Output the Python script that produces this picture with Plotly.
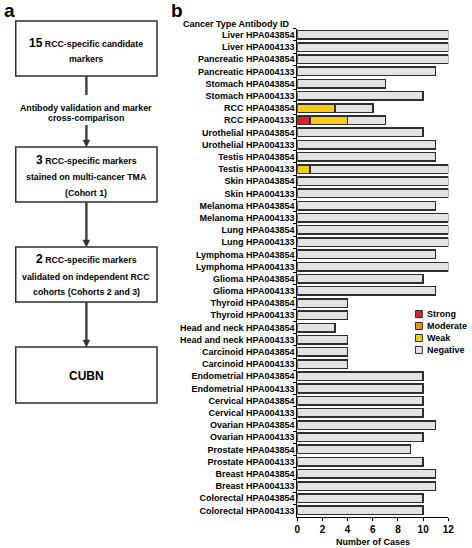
import plotly.graph_objects as go

# ---------------- data ----------------
cancer_types = ["Liver", "Liver", "Pancreatic", "Pancreatic", "Stomach", "Stomach",
                "RCC", "RCC", "Urothelial", "Urothelial", "Testis", "Testis",
                "Skin", "Skin", "Melanoma", "Melanoma", "Lung", "Lung",
                "Lymphoma", "Lymphoma", "Glioma", "Glioma", "Thyroid", "Thyroid",
                "Head and neck", "Head and neck", "Carcinoid", "Carcinoid",
                "Endometrial", "Endometrial", "Cervical", "Cervical",
                "Ovarian", "Ovarian", "Prostate", "Prostate", "Breast", "Breast",
                "Colorectal", "Colorectal"]
antibodies = ["HPA043854", "HPA004133"] * 20

strong = [0, 0, 0, 0, 0, 0, 0, 1, 0, 0, 0, 0, 0, 0, 0, 0, 0, 0, 0, 0,
          0, 0, 0, 0, 0, 0, 0, 0, 0, 0, 0, 0, 0, 0, 0, 0, 0, 0, 0, 0]
moderate = [0] * 40
weak = [0, 0, 0, 0, 0, 0, 3, 3, 0, 0, 0, 1, 0, 0, 0, 0, 0, 0, 0, 0,
        0, 0, 0, 0, 0, 0, 0, 0, 0, 0, 0, 0, 0, 0, 0, 0, 0, 0, 0, 0]
negative = [12, 12, 12, 11, 7, 10, 3, 3, 10, 11, 11, 11, 12, 12, 11, 12, 12, 12, 11, 12,
            10, 11, 4, 4, 3, 4, 4, 4, 10, 10, 10, 10, 11, 10, 9, 10, 11, 11, 10, 10]

series_names = ["Strong", "Moderate", "Weak", "Negative"]
series_values = [strong, moderate, weak, negative]
series_colors = ["#e0201e", "#f39019", "#f6cc12", "#e3e3e3"]

x_ticks = [0, 2, 4, 6, 8, 10, 12]

labels = [f"{c} {a}" for c, a in zip(cancer_types, antibodies)]

W, H = 472, 548
FONT = "Liberation Sans, Arial, sans-serif"
DARK = "#2e2e2e"


def px(x):
    return x / W


def py(y):
    return 1 - y / H


fig = go.Figure()
for name, vals, col in zip(series_names, series_values, series_colors):
    fig.add_trace(go.Bar(
        y=labels, x=[v if v else None for v in vals], orientation="h", name=name,
        marker=dict(color=col, line=dict(color=DARK, width=1.5)),
        showlegend=False,
    ))

fig.update_layout(
    width=W, height=H, barmode="stack", bargap=0.3,
    margin=dict(l=0, r=0, t=0, b=0),
    paper_bgcolor="white", plot_bgcolor="white",
    font=dict(family=FONT, color="black"),
    xaxis=dict(domain=[px(300), px(454)], range=[0, 12], tickvals=x_ticks,
               showgrid=False, zeroline=False, showline=True, linecolor="black",
               linewidth=1, ticks="outside", ticklen=3, tickcolor="black",
               tickfont=dict(size=10, family=FONT, weight="bold")),
    yaxis=dict(domain=[py(516.5), py(28.8)], autorange="reversed",
               categoryorder="array", categoryarray=labels,
               showgrid=False, zeroline=False, showline=True, linecolor="black",
               linewidth=1, ticks="outside", ticklen=3, tickcolor="black",
               tickson="boundaries",
               tickfont=dict(size=9, family=FONT, weight="bold")),
)

ann = []
shapes = []


def text(x, y, s, size=8.8, anchor="center"):
    ann.append(dict(x=px(x), y=py(y), xref="paper", yref="paper", text=s,
                    showarrow=False, xanchor=anchor, yanchor="middle",
                    font=dict(size=size, family=FONT, color="black", weight="bold")))


# panel labels
text(7, 10, "a", size=19)
text(177, 10, "b", size=19)

# panel b header and axis title
text(295, 24, "Cancer Type Antibody ID", size=9, anchor="right")
text(377, 542, "Number of Cases", size=9)

# manual legend
leg_y = [314, 326, 338, 350]
for name, col, yy in zip(series_names, series_colors, leg_y):
    shapes.append(dict(type="rect", xref="paper", yref="paper",
                       x0=px(420.5), x1=px(427.5), y0=py(yy + 3.5), y1=py(yy - 3.5),
                       fillcolor=col, line=dict(color=DARK, width=1)))
    text(430, yy, name, size=9, anchor="left")

# panel a flowchart
BX0, BX1, CX = 13, 157, 85
boxes = [(21, 76), (147, 202), (247, 302), (347, 403)]
for y0, y1 in boxes:
    shapes.append(dict(type="rect", xref="paper", yref="paper",
                       x0=px(BX0), x1=px(BX1), y0=py(y1), y1=py(y0),
                       fillcolor="white", line=dict(color=DARK, width=1.5)))

# arrows (line segments + heads)
segments = [(76, 100), (125, 147), (202, 247), (302, 347)]
for a, b in segments:
    shapes.append(dict(type="line", xref="paper", yref="paper",
                       x0=px(CX), x1=px(CX), y0=py(a), y1=py(b - 5),
                       line=dict(color="#444444", width=2.5)))
for b in [147, 247, 347]:
    shapes.append(dict(type="path", xref="paper", yref="paper",
                       path=f"M {px(CX-3.5)} {py(b-7)} L {px(CX+3.5)} {py(b-7)} L {px(CX)} {py(b)} Z",
                       fillcolor="#333333", line=dict(color="#333333", width=0.5)))

# box texts
text(CX, 43, "<span style='font-size:12px'>15</span> RCC-specific candidate")
text(CX, 59, "markers")
text(CX, 108, "Antibody validation and marker")
text(CX, 118, "cross-comparison")
text(CX, 160, "<span style='font-size:12px'>3</span> RCC-specific markers")
text(CX, 176.5, "stained on multi-cancer TMA")
text(CX, 192.5, "(Cohort 1)")
text(CX, 259.5, "<span style='font-size:12px'>2</span> RCC-specific markers")
text(CX, 276.5, "validated on independent RCC")
text(CX, 292.5, "cohorts (Cohorts 2 and 3)")
text(CX, 375.5, "CUBN", size=12)

fig.update_layout(annotations=ann, shapes=shapes)
fig.write_html("out.html", config={"displayModeBar": False},
               post_script="document.body.style.margin='0';")
